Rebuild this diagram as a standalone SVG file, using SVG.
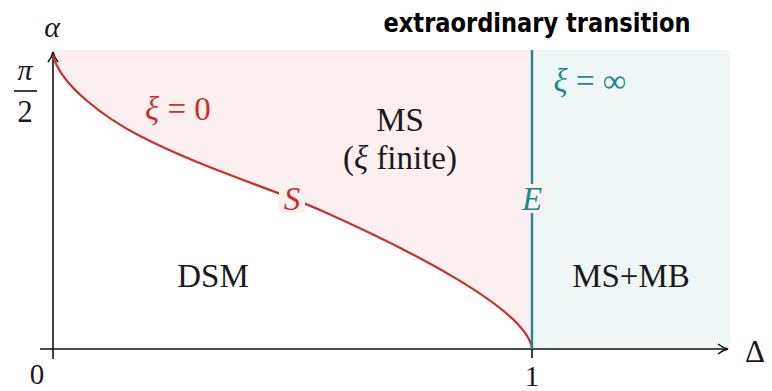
<svg xmlns="http://www.w3.org/2000/svg" width="772" height="391" viewBox="0 0 772 391">
<defs>
<style>
text.m{font-family:"Liberation Serif","Times New Roman","DejaVu Serif",serif;font-size:33px;fill:#1a1a1a}
.i{font-style:italic}
text.red{fill:#c8302a}
text.teal{fill:#1f8a8a}
</style>
<marker id="ah" markerWidth="12" markerHeight="12" refX="10" refY="6" orient="auto" markerUnits="userSpaceOnUse">
<path d="M1,1 Q6,5 11,6 Q6,7 1,11" fill="none" stroke="#111" stroke-width="1.6"/>
</marker>
</defs>
<rect width="772" height="391" fill="#fff"/>
<g id="regions">
<path d="M53,50 L532,50 L532,349 C528,310 410,250 320,210 C270,188 200,167 140,136 C105,118 60,85 53,55 Z" fill="#fcefef"/>
<rect x="532" y="50" width="198" height="299" fill="#eff6f6"/>
</g>
<g id="connectors" fill="none">
<line x1="40" y1="349" x2="727" y2="349" stroke="#111" stroke-width="1.6" marker-end="url(#ah)"/>
<line x1="53" y1="359" x2="53" y2="53" stroke="#111" stroke-width="1.6" marker-end="url(#ah)"/>
<line x1="532" y1="349" x2="532" y2="358" stroke="#111" stroke-width="1.6"/>
<path id="curve" d="M53,55 C60,85 105,118 140,136 C200,167 270,188 320,210 C410,250 528,310 532,349" stroke="#c8302a" stroke-width="2.2"/>
<line x1="532" y1="50" x2="532" y2="349" stroke="#1f8a8a" stroke-width="2.4"/>
</g>
<g id="S">
<rect x="279" y="184" width="26" height="29" fill="#fcefef"/>
<text class="m i red" x="292" y="210" text-anchor="middle" style="font-size:33px">S</text>
</g>
<g id="E">
<rect x="518" y="184" width="28" height="29" fill="#fcefef"/>
<text class="m i teal" x="532" y="210" text-anchor="middle" style="font-size:33px">E</text>
</g>
<g id="xi0"><text class="m red" x="178" y="120" text-anchor="middle" style="font-size:33px"><tspan class="i">ξ</tspan> = 0</text></g>
<g id="xiinf"><text class="m teal" x="590" y="92" text-anchor="middle" style="font-size:33px"><tspan class="i">ξ</tspan> = ∞</text></g>
<g id="MS"><text class="m" x="400" y="131" text-anchor="middle">MS</text>
<text class="m" x="400" y="169" text-anchor="middle">(<tspan class="i">ξ</tspan> finite)</text></g>
<g id="DSM"><text class="m" x="213" y="287" text-anchor="middle">DSM</text></g>
<g id="MSMB"><text class="m" x="631" y="287" text-anchor="middle">MS+MB</text></g>
<g id="labels">
<text class="m i" x="52" y="37" text-anchor="middle" style="font-size:30px">α</text>
<text class="m i" x="25" y="80" text-anchor="middle" style="font-size:30px">π</text>
<line x1="14" y1="91" x2="37" y2="91" stroke="#111" stroke-width="1.6"/>
<text class="m" x="25" y="122" text-anchor="middle" style="font-size:31px">2</text>
<text class="m" x="37" y="384" text-anchor="middle" style="font-size:29px">0</text>
<text class="m" x="532" y="386" text-anchor="middle" style="font-size:29px">1</text>
<text class="m" x="755" y="362" text-anchor="middle" style="font-size:31px">Δ</text>
<text x="537" y="32" text-anchor="middle" font-family="DejaVu Sans" font-weight="bold" font-size="27" fill="#000" textLength="307" lengthAdjust="spacingAndGlyphs">extraordinary transition</text>
</g>
</svg>
